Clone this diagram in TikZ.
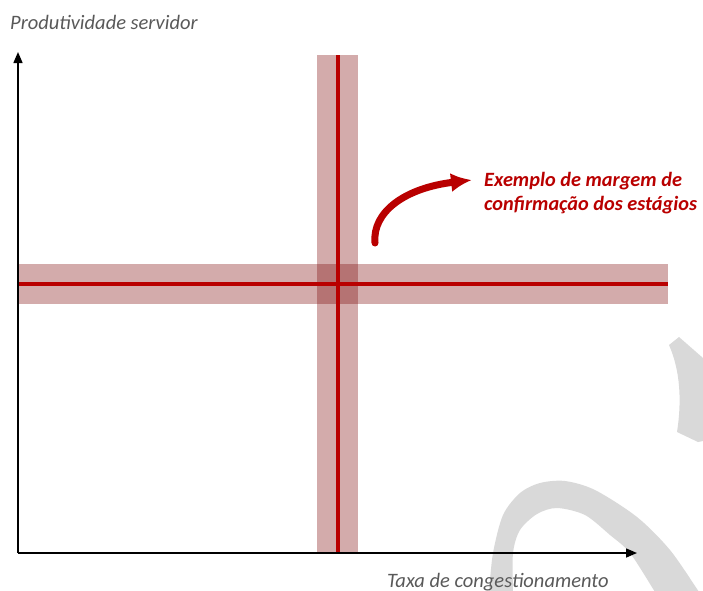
\documentclass[tikz,border=0pt]{standalone}
\usepackage{fontspec}
\setmainfont{Carlito}
\usetikzlibrary{arrows.meta}
\definecolor{darkred}{RGB}{185,0,0}
\definecolor{bandred}{RGB}{120,0,0}
\definecolor{wm}{RGB}{217,217,217}
\definecolor{axlabel}{RGB}{89,89,89}
\tikzset{
  axis/.style={line width=1.5pt, -{Triangle[length=11pt,width=9pt]}},
  band/.style={fill=bandred, fill opacity=0.33},
  redline/.style={draw=darkred, line width=3.2pt},
  axlab/.style={anchor=base west, inner sep=0pt, text=axlabel, font=\fontsize{20.5}{24}\selectfont\itshape},
  notelab/.style={anchor=base west, inner sep=0pt, text=darkred, font=\fontsize{20.3}{24}\selectfont\bfseries\itshape},
  bigarrow/.style={draw=darkred, line width=7pt, line cap=round, -{Latex[length=21pt,width=19pt]}}
}
\begin{document}
\begin{tikzpicture}[x=1pt,y=-1pt]
\useasboundingbox (0,0) rectangle (703,590);
% watermark shapes
\begin{scope}
\clip (0,0) rectangle (703,590);
\fill[wm] (669,345) -- (679,337) -- (703,358) -- (703,441) -- (698,442) -- (677,432)
  .. controls (682,400) and (680,370) .. (669,345) -- cycle;
\fill[wm] plot[smooth] coordinates {(488,600) (489,592) (493,553) (503,515) (520,493) (540,483) (565,481) (595,490) (637,517) (670,550) (699,592) (704,600)}
  -- plot[smooth] coordinates {(660,600) (655,592) (630,553) (610,535) (585,515) (557,508) (537,514) (520,530) (513,553) (513,592) (513,600)} -- cycle;
\end{scope}
% coordinates
\coordinate (O) at (18,553);
\coordinate (Ytip) at (18,52);
\coordinate (Xtip) at (637,553);
% bands
\fill[band] (317,55) rectangle (358,553);
\fill[band] (18,264) rectangle (668,304);
\coordinate (vtop) at (338,55);
\coordinate (vbot) at (338,553);
\coordinate (hl) at (18,284);
\coordinate (hr) at (668,284);
\draw[redline] (vtop) -- (vbot);
\draw[redline] (hl) -- (hr);
% axes
\draw[axis] (O) -- (Ytip);
\draw[axis] (O) -- (Xtip);
% labels
\node[axlab] (ylab) at (10,29) {Produtividade servidor};
\node[axlab] (xlab) at (387,587) {Taxa de congestionamento};
\node[notelab] (note1) at (484,186) {Exemplo de margem de};
\node[notelab] (note2) at (484,210) {confirmação dos estágios};
% curved arrow
\coordinate (astart) at (375,243);
\coordinate (aend) at (472,180);
\draw[bigarrow] (astart) .. controls (372,212) and (405,188) .. (aend);
\end{tikzpicture}
\end{document}
